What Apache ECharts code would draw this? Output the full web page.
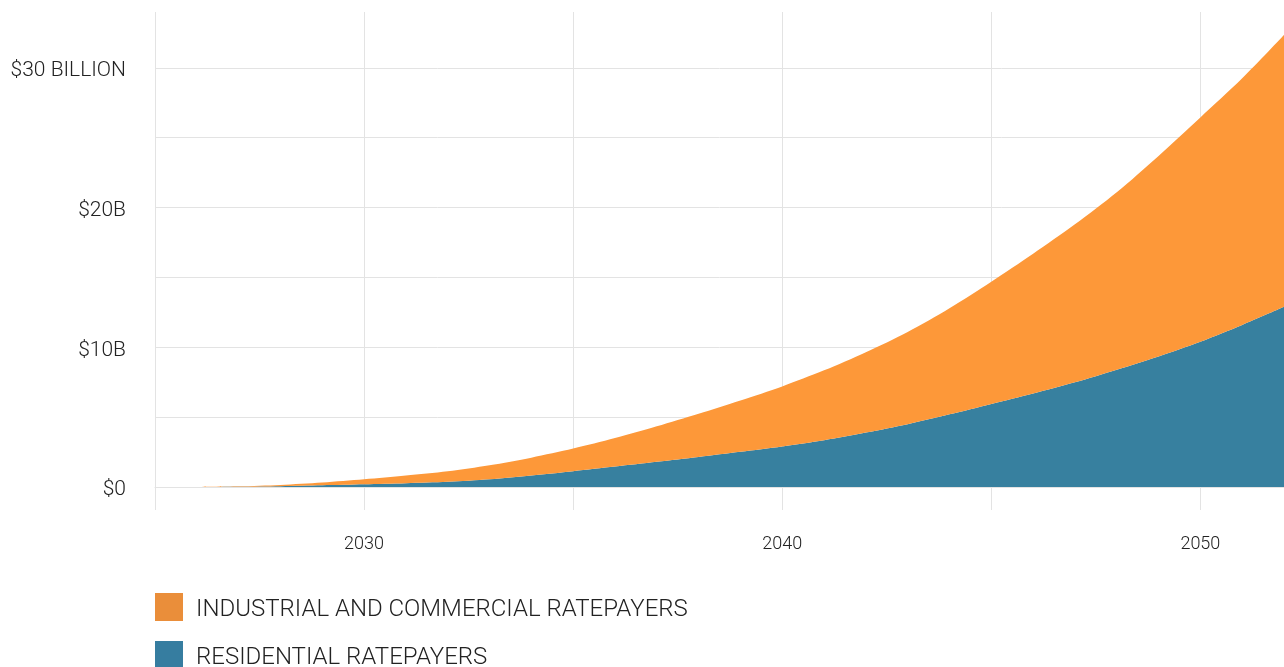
<!DOCTYPE html>
<html>
<head>
<meta charset="utf-8">
<script src="https://cdn.jsdelivr.net/npm/echarts@6/dist/echarts.min.js"></script>
<style>
html,body{margin:0;padding:0;background:#fff;}
#chart{width:1284px;height:667px;}
</style>
</head>
<body>
<div id="chart"></div>
<script>
const years = ['2025','2026','2027','2028','2029','2030','2031','2032','2033','2034','2035','2036','2037','2038','2039','2040','2041','2042','2043','2044','2045','2046','2047','2048','2049','2050','2051','2052'];
const totalCost = [null,0,0.05,0.15,0.32,0.55,0.82,1.12,1.55,2.1,2.75,3.5,4.35,5.25,6.2,7.2,8.35,9.65,11.1,12.8,14.7,16.7,18.8,21.1,23.7,26.45,29.25,32.35];
const residential = [null,0,0.02,0.06,0.12,0.19,0.27,0.37,0.55,0.82,1.13,1.46,1.8,2.15,2.52,2.9,3.35,3.9,4.5,5.2,5.95,6.7,7.5,8.4,9.35,10.4,11.6,12.9];
const industrial = totalCost.map((t, i) => t == null ? null : +(t - residential[i]).toFixed(3));
const xLabelYears = ['2030', '2040', '2050'];
const xTickYears = ['2025', '2030', '2035', '2040', '2045', '2050'];
const yLabelValues = [0, 10, 20, 30];
const seriesNames = ['INDUSTRIAL AND COMMERCIAL RATEPAYERS', 'RESIDENTIAL RATEPAYERS'];

const font = 'Roboto, "Noto Sans", sans-serif';
const chart = echarts.init(document.getElementById('chart'));
chart.setOption({
  animation: false,
  grid: {left: 155, right: 0, top: 12, bottom: 180, containLabel: false},
  legend: {
    data: seriesNames,
    orient: 'vertical',
    left: 155, top: 593, height: 120, padding: 0,
    itemWidth: 28, itemHeight: 28, itemGap: 19,
    icon: 'rect',
    formatter: name => '{t|' + name + '}',
    textStyle: {
      fontFamily: font, fontSize: 24, color: '#222', fontWeight: 300,
      rich: {t: {fontFamily: font, fontSize: 24, color: '#222', fontWeight: 300, padding: [6, 0, 0, 8]}}
    }
  },
  xAxis: {
    type: 'category', data: years, boundaryGap: false,
    axisLine: {show: true, lineStyle: {color: '#e3e3e3', width: 1}},
    axisTick: {show: true, length: 23, interval: (i, v) => xTickYears.includes(v), lineStyle: {color: '#e3e3e3', width: 1}},
    axisLabel: {interval: (i, v) => xLabelYears.includes(v), margin: 48, fontFamily: font, fontSize: 18, color: '#222', fontWeight: 300},
    splitLine: {show: true, interval: (i, v) => xTickYears.includes(v), lineStyle: {color: '#e3e3e3', width: 1}}
  },
  yAxis: {
    type: 'value', min: 0, max: 34, interval: 5,
    axisLine: {show: false}, axisTick: {show: false},
    axisLabel: {customValues: yLabelValues, margin: 29, fontFamily: font, fontSize: 21, color: '#222', fontWeight: 300,
      formatter: v => '{t|' + (v === 30 ? '$30 BILLION' : (v === 0 ? '$0' : '$' + v + 'B')) + '}',
      rich: {t: {fontFamily: font, fontSize: 21, color: '#222', fontWeight: 300, padding: [6, 0, 0, 0]}}},
    splitLine: {show: true, showMaxLine: false, lineStyle: {color: '#e3e3e3', width: 1}}
  },
  series: [
    {
      name: seriesNames[1], type: 'line', stack: 'cost', smooth: 0.3,
      showSymbol: false, symbol: 'none',
      lineStyle: {width: 0}, areaStyle: {color: '#37809f', opacity: 1},
      itemStyle: {color: '#367da0'},
      data: residential
    },
    {
      name: seriesNames[0], type: 'line', stack: 'cost', smooth: 0.3,
      showSymbol: false, symbol: 'none',
      lineStyle: {width: 0}, areaStyle: {color: '#fd9839', opacity: 1},
      itemStyle: {color: '#ea8e3a'},
      data: industrial
    }
  ]
});
</script>
</body>
</html>
